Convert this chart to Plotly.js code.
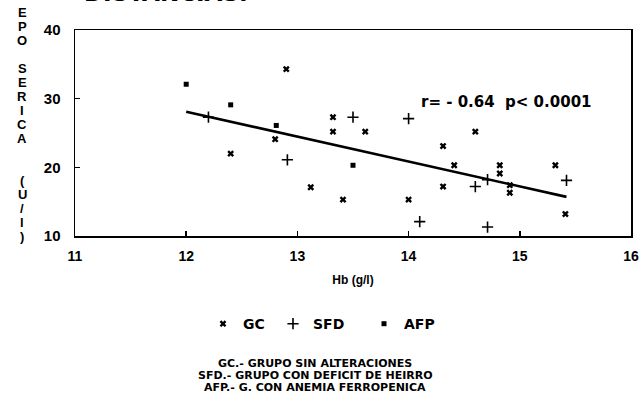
<!DOCTYPE html>
<html><head><meta charset="utf-8">
<script src="https://cdn.plot.ly/plotly-3.0.1.min.js"></script>
<style>html,body{margin:0;padding:0;background:#fff}#chart{width:640px;height:409px}</style>
</head><body><div id="chart"></div>
<script>
// Data
const gcX = [12.4, 12.8, 12.9, 13.12, 13.32, 13.32, 13.41, 13.61, 14.0, 14.31, 14.31, 14.41, 14.6, 14.82, 14.82, 14.91, 14.91, 15.32, 15.41];
const gcY = [22.0, 24.1, 34.3, 17.1, 27.3, 25.2, 15.3, 25.2, 15.3, 23.1, 17.2, 20.3, 25.2, 20.3, 19.1, 17.4, 16.3, 20.3, 13.2];
const sfdX = [12.2, 12.91, 13.5, 14.0, 14.1, 14.6, 14.71, 14.71, 15.42];
const sfdY = [27.3, 21.1, 27.3, 27.1, 12.1, 17.2, 11.3, 18.2, 18.1];
const afpX = [12.0, 12.4, 12.81, 13.5];
const afpY = [32.1, 29.1, 26.1, 20.3];
const fitX = [12.0, 15.42];
const fitY = [28.1, 15.7];
const seriesNames = ['GC', 'SFD', 'AFP'];
const xTicks = [11, 12, 13, 14, 15, 16];
const yTicks = [10, 20, 30, 40];
const yTitleLetters = ['E','P','O',' ','S','E','R','I','C','A',' ',' ','(','U','/','l',')'];
const statText = 'r= - 0.64  p< 0.0001';
const chartTitle = 'DISTANCIAS.';
const footnotes = ['GC.- GRUPO SIN ALTERACIONES', 'SFD.- GRUPO CON DEFICIT DE HEIRRO', 'AFP.- G. CON ANEMIA FERROPENICA'];

const F = 'Liberation Sans, Arial, sans-serif';
const D = 'DejaVu Sans, sans-serif';
const traces = [
  {x: gcX, y: gcY, name: seriesNames[0], legend: 'legend', mode: 'markers', type: 'scatter', cliponaxis: false,
   marker: {symbol: 'x', size: 6, color: '#000'}},
  {x: sfdX, y: sfdY, name: seriesNames[1], legend: 'legend2', mode: 'markers', type: 'scatter', cliponaxis: false,
   marker: {symbol: 'cross-thin-open', size: 8, color: '#000', line: {color: '#000', width: 1.6}}},
  {x: afpX, y: afpY, name: seriesNames[2], legend: 'legend3', mode: 'markers', type: 'scatter', cliponaxis: false,
   marker: {symbol: 'square', size: 5, color: '#000'}},
  {x: fitX, y: fitY, mode: 'lines', type: 'scatter', showlegend: false, line: {color: '#000', width: 2.6}}
];

const footAnn = footnotes.map((t, i) => ({
  xref: 'paper', yref: 'paper', x: (315 - 75) / 556, y: (236 - (363 + i * 12)) / 206,
  xanchor: 'center', yanchor: 'middle', showarrow: false, text: t, borderpad: 0,
  font: {family: D, size: 11, weight: 'bold', color: '#000'}
}));

const yTitleAnn = yTitleLetters.map((c, i) => ({
  xref: 'paper', yref: 'paper', x: (22 - 75) / 556, y: (236 - (12 + 14 * i)) / 206,
  xanchor: 'center', yanchor: 'middle', showarrow: false, text: c,
  font: {family: F, size: 13, weight: 'bold', color: '#000'}
}));

const legendBase = {orientation: 'h', xanchor: 'left', y: -0.35, yanchor: 'top', bgcolor: 'rgba(0,0,0,0)',
  font: {family: D, size: 14, weight: 'bold', color: '#000'}, itemwidth: 30};

const layout = {
  width: 640, height: 409,
  margin: {l: 75, r: 9, t: 30, b: 173},
  paper_bgcolor: '#fff', plot_bgcolor: '#fff',
  showlegend: true,
  legend: Object.assign({}, legendBase, {x: (203 - 75) / 556}),
  legend2: Object.assign({}, legendBase, {x: (273 - 75) / 556}),
  legend3: Object.assign({}, legendBase, {x: (364 - 75) / 556}),
  xaxis: {range: [11, 16], tickvals: xTicks, ticktext: xTicks.map(String),
          showgrid: false, zeroline: false, showline: true, mirror: true, linecolor: '#000', linewidth: 1.5,
          ticks: 'inside', ticklen: 5, tickwidth: 1.5, tickcolor: '#000', ticklabelstandoff: 7,
          tickfont: {family: F, size: 14, weight: 'bold', color: '#000'},
          title: {text: 'Hb (g/l)', standoff: 12, font: {family: F, size: 12, weight: 'bold', color: '#000'}}},
  yaxis: {range: [10, 40], tickvals: yTicks, ticktext: yTicks.map(String),
          showgrid: false, zeroline: false, showline: true, mirror: true, linecolor: '#000', linewidth: 1.5,
          ticks: 'inside', ticklen: 5, tickwidth: 1.5, tickcolor: '#000', ticklabelstandoff: 10,
          tickfont: {family: F, size: 15, weight: 'bold', color: '#000'}},
  annotations: [
    {xref: 'paper', yref: 'paper', x: (82 - 75) / 556, y: (236 - 8) / 206, xanchor: 'left', yanchor: 'bottom',
     showarrow: false, text: chartTitle, font: {family: D, size: 23, weight: 'bold', color: '#000'}},
    {xref: 'x', yref: 'y', x: 14.09, y: 29.5, xanchor: 'left', yanchor: 'middle', showarrow: false,
     text: statText, font: {family: D, size: 15, weight: 'bold', color: '#000'}}
  ].concat(yTitleAnn, footAnn)
};
Plotly.newPlot('chart', traces, layout, {displayModeBar: false, staticPlot: true});
</script></body></html>
